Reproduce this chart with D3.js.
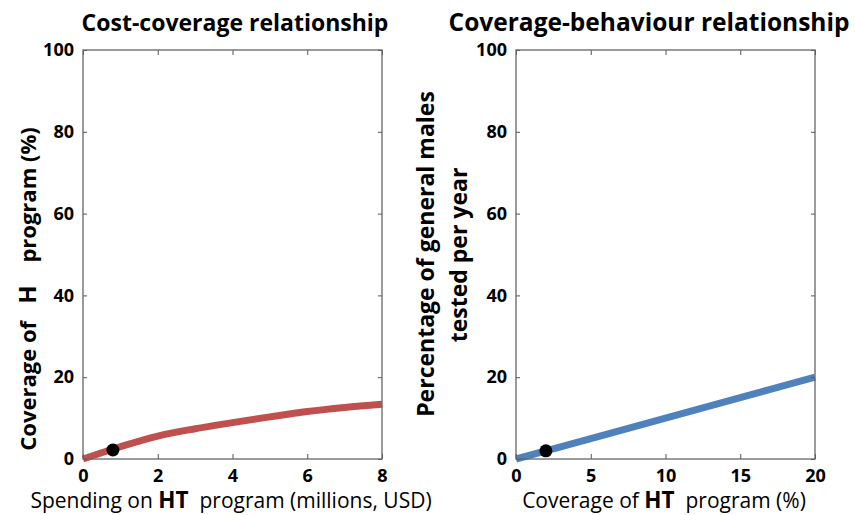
<!doctype html>
<html>
<head>
<meta charset="utf-8">
<script src="https://d3js.org/d3.v7.min.js"></script>
<style>
  body { margin: 0; background: #fff; }
  text { font-family: "Open Sans", Lato, sans-serif; fill: #000; white-space: pre; }
</style>
</head>
<body>
<svg width="855" height="515"></svg>
<script>

// cost-coverage curve (spending in millions USD -> coverage %)
var spendX = [0, 1, 2, 3, 4, 5, 6, 7, 8];
var coverY = [0, 3.0, 5.6, 7.4, 8.9, 10.3, 11.6, 12.6, 13.4];
var costPoint = [0.8, 2.2];

// coverage-behaviour line (coverage % -> % tested per year)
var covX = [0, 5, 10, 15, 20];
var testedY = [0, 5, 10, 15, 20];
var behPoint = [2, 2];

var costTicks = [0, 2, 4, 6, 8];
var covTicks = [0, 5, 10, 15, 20];
var yTicks = [0, 20, 40, 60, 80, 100];

var svg = d3.select("svg");
var plotTop = 50, plotBottom = 459, plotW = 299;

function panel(left, xMax, xTicks, xs, ys, pt, color, title, titleX, titleSize) {
    var x = d3.scaleLinear().domain([0, xMax]).range([left, left + plotW]);
    var y = d3.scaleLinear().domain([0, 100]).range([plotBottom, plotTop]);
    var g = svg.append("g");

    // curve
    var line = d3.line()
        .x(function(d, i) { return x(xs[i]); })
        .y(function(d) { return y(d); })
        .curve(d3.curveMonotoneX);
    g.append("path")
     .datum(ys)
     .attr("d", line)
     .attr("fill", "none")
     .attr("stroke", color)
     .attr("stroke-width", 7);

    g.append("circle")
     .attr("cx", x(pt[0]))
     .attr("cy", y(pt[1]))
     .attr("r", 6.5)
     .attr("fill", "#000");

    // box + inward ticks
    var ax = function(a) {
        a.select(".domain").remove();
        a.selectAll("line").attr("stroke", "#555");
        a.selectAll("text").style("font-size", "18px").style("font-weight", "bold");
    };
    g.append("g")
     .attr("transform", "translate(0," + plotBottom + ")")
     .call(d3.axisBottom(x).tickValues(xTicks).tickSize(-5).tickPadding(10))
     .call(ax);
    g.append("g")
     .attr("transform", "translate(0," + plotTop + ")")
     .call(d3.axisTop(x).tickValues(xTicks).tickSize(-5).tickFormat(""))
     .call(ax);
    g.append("g")
     .attr("transform", "translate(" + left + ",0)")
     .call(d3.axisLeft(y).tickValues(yTicks).tickSize(-4).tickPadding(9))
     .call(ax);
    g.append("g")
     .attr("transform", "translate(" + (left + plotW) + ",0)")
     .call(d3.axisRight(y).tickValues(yTicks).tickSize(-4).tickFormat(""))
     .call(ax);

    g.append("rect")
     .attr("x", left).attr("y", plotTop)
     .attr("width", plotW).attr("height", plotBottom - plotTop)
     .attr("fill", "none")
     .attr("stroke", "#666")
     .attr("stroke-width", 1.3);

    g.append("text")
     .attr("x", titleX)
     .attr("y", 31)
     .attr("text-anchor", "middle")
     .style("font-size", titleSize)
     .style("font-weight", "bold")
     .text(title);
    return g;
}

var g1 = panel(83, 8, costTicks, spendX, coverY, costPoint, "#c0504d", "Cost-coverage relationship", 235, "23px");
var g2 = panel(516, 20, covTicks, covX, testedY, behPoint, "#4f81bd", "Coverage-behaviour relationship", 649, "24.5px");

// x axis labels with a larger bold "HT"
function xLabel(cx, before, after) {
    var t = svg.append("text")
        .attr("x", cx)
        .attr("y", 508)
        .attr("text-anchor", "middle")
        .style("font-size", "21px");
    t.append("tspan").text(before);
    t.append("tspan").style("font-size", "22.5px").style("font-weight", "bold").text("HT");
    t.append("tspan").text(after);
}
xLabel(231, "Spending on ", "  program (millions, USD)");
xLabel(664, "Coverage of ", "  program (%)");

// left y label
var yl = svg.append("text")
    .attr("transform", "translate(36,289) rotate(-90)")
    .attr("text-anchor", "middle")
    .style("font-size", "22px")
    .style("font-weight", "bold");
yl.append("tspan").text("Coverage of   ");
yl.append("tspan").style("font-size", "24px").text("H");
yl.append("tspan").text("    program (%)");

// right y label, two lines
svg.append("text")
   .attr("transform", "translate(434,254) rotate(-90)")
   .attr("text-anchor", "middle")
   .style("font-size", "23px")
   .style("font-weight", "bold")
   .text("Percentage of general males");
svg.append("text")
   .attr("transform", "translate(467,255) rotate(-90)")
   .attr("text-anchor", "middle")
   .style("font-size", "23px")
   .style("font-weight", "bold")
   .text("tested per year");

</script>
</body>
</html>
